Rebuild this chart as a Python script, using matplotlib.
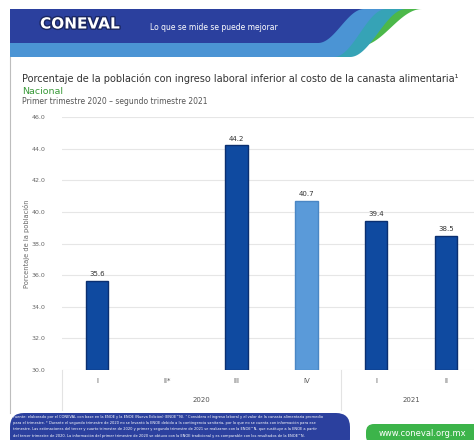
import numpy as np
import matplotlib
matplotlib.use("Agg")
import matplotlib.pyplot as plt
from matplotlib.patches import Polygon, FancyBboxPatch
import matplotlib.patheffects as pe

# data
quarters = ["I", "II*", "III", "IV", "I", "II"]
years = ["2020", "2021"]
year_span = [(0, 3), (4, 5)]
values = [35.6, np.nan, 44.2, 40.7, 39.4, 38.5]
highlight = [False, False, False, True, False, False]
y_ticks = [30.0, 32.0, 34.0, 36.0, 38.0, 40.0, 42.0, 44.0, 46.0]

W, H = 474, 440
fig = plt.figure(figsize=(W / 100, H / 100), dpi=100)

# background layer in pixel coords
bg = fig.add_axes([0, 0, 1, 1])
bg.set_xlim(0, W)
bg.set_ylim(H, 0)
bg.axis("off")


def swoosh(x_bot, y_bot, x_top, y_top, n=40):
    t = np.linspace(0, 1, n)
    s = (1 - np.cos(np.pi * t)) / 2
    xs = x_bot + (x_top - x_bot) * t
    ys = y_bot + (y_top - y_bot) * s
    return list(zip(xs, ys))


def band(color, y_bottom, x_bot, x_top):
    pts = [(10, 9)] + [(x_top, 9)] + swoosh(x_bot, y_bottom, x_top, 9)[::-1] + [(10, y_bottom)]
    bg.add_patch(Polygon(pts, closed=True, color=color, lw=0))


# header bands, back to front
band("#4cb84a", 46, 360, 422)
band("#36a3b6", 57, 350, 406)
band("#4b94d4", 57, 334, 386)
band("#2b409e", 43, 318, 364)

bg.text(40, 24, "CONEVAL", color="white", fontsize=11, fontweight="bold",
        va="center", ha="left", family="DejaVu Sans",
        path_effects=[pe.withStroke(linewidth=2, foreground="#1a2660")])
bg.text(150, 27, "Lo que se mide se puede mejorar", color="white", fontsize=5.5,
        va="center", ha="left")

# frame line on the left
bg.plot([10, 10], [57, 413], color="#bdbdbd", lw=0.8)

# titles
bg.text(22, 79, "Porcentaje de la población con ingreso laboral inferior al costo de la canasta alimentaria¹",
        fontsize=7.0, color="#333333", va="center", ha="left")
bg.text(22, 91, "Nacional", fontsize=6.8, color="#3a9a3a", va="center", ha="left")
bg.text(22, 101, "Primer trimestre 2020 – segundo trimestre 2021", fontsize=5.5,
        color="#555555", va="center", ha="left")

# footer
bg.add_patch(FancyBboxPatch((10, 413), 340, 40, boxstyle="round,pad=0,rounding_size=14",
                            color="#2b409e", lw=0))
notes = [
    "Fuente: elaborado por el CONEVAL con base en la ENOE y la ENOE (Nueva Edición) (ENOE^N). ¹ Considera el ingreso laboral y el valor de la canasta alimentaria promedio",
    "para el trimestre. * Durante el segundo trimestre de 2020 no se levantó la ENOE debido a la contingencia sanitaria, por lo que no se cuenta con información para ese",
    "trimestre. Las estimaciones del tercer y cuarto trimestre de 2020 y primer y segundo trimestre de 2021 se realizaron con la ENOE^N, que sustituye a la ENOE a partir",
    "del tercer trimestre de 2020. La información del primer trimestre de 2020 se obtuvo con la ENOE tradicional y es comparable con los resultados de la ENOE^N.",
]
for i, line in enumerate(notes):
    bg.text(13, 417 + i * 6.2, line, fontsize=2.6, color="white", va="center", ha="left")
bg.add_patch(FancyBboxPatch((366, 424), 120, 20, boxstyle="round,pad=0,rounding_size=8",
                            color="#3cb44a", lw=0))
bg.text(422, 433, "www.coneval.org.mx", fontsize=6, color="white", va="center", ha="center")

# chart
ax = fig.add_axes([62 / W, 1 - 370 / H, 1 - 62 / W, (370 - 117) / H])
x = np.arange(len(quarters))
has = ~np.isnan(values)
vals = np.array(values)[has]
colors = ["#5a9ad9" if h else "#0f4aa0" for h in np.array(highlight)[has]]
edges = ["#4a86c4" if h else "#0a2f70" for h in np.array(highlight)[has]]
ax.bar(x[has], vals - 30, bottom=30, width=0.32, color=colors,
       edgecolor=edges, linewidth=1.0, zorder=3)
for xi, v in zip(x[has], vals):
    ax.text(xi, v + 0.25, f"{v:.1f}", ha="center", va="bottom", fontsize=5, color="#333333")

ax.set_xlim(-0.5, 5.4)
ax.set_ylim(30, 46)
ax.set_yticks(y_ticks)
ax.set_yticklabels([f"{t:.1f}" for t in y_ticks], fontsize=4.5, color="#666666")
ax.set_xticks(x)
ax.set_xticklabels(quarters, fontsize=5, color="#555555")
ax.tick_params(axis="both", length=0, pad=6)
ax.tick_params(axis="y", pad=12)
ax.grid(axis="y", color="#e6e6e6", lw=0.8, zorder=0)
for s in ax.spines.values():
    s.set_visible(False)
ax.set_ylabel("Porcentaje de la población", fontsize=4.8, color="#666666", labelpad=1)

# year groups under the quarter labels
for (a, b), yr in zip(year_span, years):
    ax.text((a + b) / 2, -0.12, yr, transform=ax.get_xaxis_transform(),
            ha="center", va="center", fontsize=5, color="#555555")
for xs in [-0.5, 3.5]:
    ax.plot([xs, xs], [0, -0.16], transform=ax.get_xaxis_transform(),
            color="#e3e3e3", lw=0.8, clip_on=False)

fig.savefig("out.png", dpi=100)
